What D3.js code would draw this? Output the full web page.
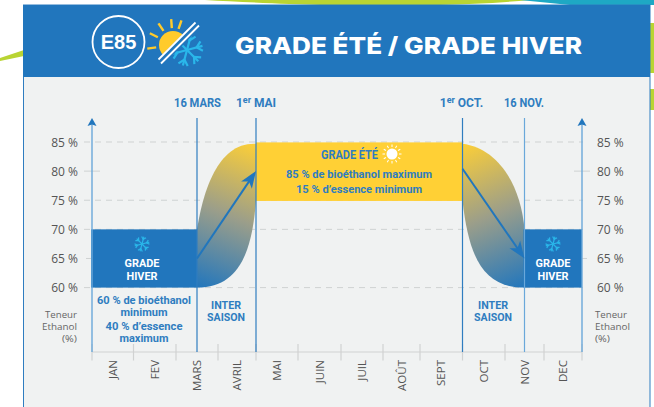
<!DOCTYPE html>
<html>
<head>
<meta charset="utf-8">
<title>E85 Grade été / Grade hiver</title>
<script src="https://cdn.jsdelivr.net/npm/d3@7"></script>
<style>
  html, body { margin: 0; padding: 0; background: #fff; overflow: hidden; }
  svg { display: block; }
  .tick-label { font-family: "Open Sans", sans-serif; font-size: 12px; fill: #555; }
  .unit { font-family: "Open Sans", sans-serif; font-size: 8.6px; fill: #666; }
  .month { font-family: "Open Sans", sans-serif; font-size: 11.5px; fill: #555; }
  .narrow { font-family: "Liberation Sans Narrow", Roboto, sans-serif; font-weight: 700; }
</style>
</head>
<body>
<svg width="654" height="407"></svg>
<script>
// values
var months = ["JAN", "FEV", "MARS", "AVRIL", "MAI", "JUIN", "JUIL", "AOÛT", "SEPT", "OCT", "NOV", "DEC"];
var monthEdges = d3.range(13);
var percentTicks = [60, 65, 70, 75, 80, 85];
var fullGridTicks = [60, 70, 75, 85];
var changeDates = [2.5, 4, 9, 10.5];
var changeColors = ["#2f7dc0", "#2f7dc0", "#2f7dc0", "#6aa8da"];
var unitLines = ["Teneur", "Ethanol", "(%)"];

var winterLow = 60, winterHigh = 70, summerLow = 75, summerHigh = 85;
var winterLeft = [0, 2.5], winterRight = [10.5, 12], summer = [4, 9];
var riseArrow = [[2.5, 65], [4, 80]];
var fallArrow = [[9, 80.4], [10.5, 65]];

var blue = "#2176bd", textBlue = "#2f7dc0", yellow = "#ffd035", cyan = "#2ab7ea";

var svg = d3.select("svg");

// month ticks in the picture are not evenly spaced, so the scale is piecewise
var x = d3.scaleLinear().domain(monthEdges)
    .range([92, 133.5, 176, 218, 256, 298, 341, 383, 420, 462.5, 505, 544, 582]);
var y = d3.scaleLinear().domain([60, 85]).range([287.6, 142]);

// decoration behind the panel
var deco = svg.append("g");
deco.append("path").attr("d", "M0,58L24,50L24,56L0,61Z").attr("fill", "#b9d433");
deco.append("path").attr("d", "M205,0H530C500,3 470,4 440,5H320C290,4 240,2 205,0Z").attr("fill", "#b9d433");
deco.append("path").attr("d", "M520,0H654V5H570Z").attr("fill", "#1ea8c4");
deco.append("rect").attr("x", 650).attr("y", 23).attr("width", 4).attr("height", 50).attr("fill", "#b9d433");
deco.append("rect").attr("x", 650).attr("y", 89).attr("width", 4).attr("height", 21).attr("fill", "#b9d433");

// panel and header
svg.append("rect").attr("x", 23.5).attr("y", 5).attr("width", 626.5).attr("height", 410)
    .attr("fill", "#f0f2f2").attr("stroke", "#2f7dc0").attr("stroke-width", 1);
svg.append("rect").attr("x", 23).attr("y", 5).attr("width", 627).attr("height", 72).attr("fill", blue);

svg.append("circle").attr("cx", 118.5).attr("cy", 42).attr("r", 26)
    .attr("fill", "none").attr("stroke", "#fff").attr("stroke-width", 1.8);
svg.append("text").attr("x", 118.5).attr("y", 49).attr("text-anchor", "middle")
    .attr("font-family", "Liberation Sans, sans-serif").attr("font-weight", 700)
    .attr("font-size", 20).attr("fill", "#fff").text("E85");

svg.append("text").attr("x", 235).attr("y", 54)
    .attr("font-family", "Inter, sans-serif").attr("font-weight", 800)
    .attr("font-size", 23).attr("fill", "#fff")
    .attr("textLength", 347).attr("lengthAdjust", "spacingAndGlyphs")
    .text("GRADE ÉTÉ / GRADE HIVER");

function drawSnowflake(parent, cx, cy, r, color, sw) {
  var g = parent.append("g").attr("transform", "translate(" + cx + "," + cy + ")")
      .attr("stroke", color).attr("stroke-width", sw).attr("fill", "none");
  d3.range(6).forEach(function(i) {
    var arm = g.append("g").attr("transform", "rotate(" + (i * 60 + 15) + ")");
    arm.append("path").attr("d", "M0,0V" + (-r));
    arm.append("path").attr("d", "M" + (-r * 0.3) + "," + (-r * 0.95) + "L0," + (-r * 0.62) + "L" + (r * 0.3) + "," + (-r * 0.95));
  });
}

function drawSun(parent, cx, cy, r, inner, outer, color, sw, angles) {
  var g = parent.append("g").attr("transform", "translate(" + cx + "," + cy + ")");
  g.append("circle").attr("r", r).attr("fill", color);
  angles.forEach(function(a) {
    g.append("path").attr("d", "M0," + (-inner) + "V" + (-outer))
        .attr("transform", "rotate(" + a + ")")
        .attr("stroke", color).attr("stroke-width", sw);
  });
}

// header icon: sun and snowflake split by a double diagonal
var defs = svg.append("defs");
defs.append("clipPath").attr("id", "sunSide").append("path").attr("d", "M140,77L205,12H140Z");
defs.append("clipPath").attr("id", "snowSide").append("path").attr("d", "M155,73L210,18V80H155Z");

var icon = svg.append("g");
drawSun(icon.append("g").attr("clip-path", "url(#sunSide)"), 173, 45, 14, 17, 26, "#ffcb2b", 2.4, [-98, -63, -34, -4, 19]);
drawSnowflake(icon.append("g").attr("clip-path", "url(#snowSide)"), 187, 50, 16, cyan, 2.2);
icon.append("path").attr("d", "M158.5,59.5L195.5,22.5").attr("stroke", "#fff").attr("stroke-width", 1.8);
icon.append("path").attr("d", "M161,63.5L199,25.5").attr("stroke", "#fff").attr("stroke-width", 1.8);

// horizontal guides
var grid = svg.append("g");
percentTicks.forEach(function(p) {
  var full = fullGridTicks.indexOf(p) >= 0;
  if (full) {
    grid.append("line").attr("x1", 84).attr("x2", 583).attr("y1", y(p)).attr("y2", y(p))
        .attr("stroke", "#cfd2d2").attr("stroke-dasharray", "6,5");
  } else {
    grid.append("line").attr("x1", p === 80 ? 84 : 86).attr("x2", p === 80 ? 100 : 92).attr("y1", y(p)).attr("y2", y(p))
        .attr("stroke", "#cfd2d2");
    grid.append("line").attr("x1", p === 80 ? 574 : 582).attr("x2", p === 80 ? 590 : 587).attr("y1", y(p)).attr("y2", y(p))
        .attr("stroke", "#cfd2d2");
  }
  svg.append("text").attr("class", "tick-label").attr("x", 78).attr("y", y(p) + 4.5)
      .attr("text-anchor", "end").text(p + " %");
  svg.append("text").attr("class", "tick-label").attr("x", 597).attr("y", y(p) + 4.5).text(p + " %");
});

// gradients for the two transition seasons
function addGradient(id, x1, y1, x2, y2) {
  var g = defs.append("linearGradient").attr("id", id).attr("gradientUnits", "userSpaceOnUse")
      .attr("x1", x1).attr("y1", y1).attr("x2", x2).attr("y2", y2);
  g.append("stop").attr("offset", 0).attr("stop-color", blue);
  g.append("stop").attr("offset", 0.5).attr("stop-color", "#9b9e8a");
  g.append("stop").attr("offset", 1).attr("stop-color", yellow);
}
addGradient("riseFill", x(2.5), y(60), x(4), y(85));
addGradient("fallFill", x(10.5), y(60), x(9), y(85));

var rise = d3.path();
rise.moveTo(x(2.5), y(winterHigh));
rise.bezierCurveTo(x(2.65), y(76.7), x(3), y(85), x(4), y(84.7));
rise.lineTo(x(4), y(summerLow));
rise.bezierCurveTo(x(3.9), y(66.4), x(3.58), y(60), x(2.5), y(winterLow));
rise.closePath();
svg.append("path").attr("d", rise.toString()).attr("fill", "url(#riseFill)");

var fall = d3.path();
fall.moveTo(x(9), y(84.7));
fall.bezierCurveTo(x(9.8), y(84), x(10.4), y(78), x(10.5), y(winterHigh));
fall.lineTo(x(10.5), y(winterLow));
fall.bezierCurveTo(x(9.5), y(60), x(9.15), y(65), x(9), y(summerLow));
fall.closePath();
svg.append("path").attr("d", fall.toString()).attr("fill", "url(#fallFill)");

// grade blocks
[winterLeft, winterRight].forEach(function(d) {
  svg.append("rect").attr("x", x(d[0]) - 1).attr("y", y(winterHigh))
      .attr("width", x(d[1]) - x(d[0]) + 1).attr("height", y(winterLow) - y(winterHigh))
      .attr("fill", blue);
});
svg.append("rect").attr("x", x(summer[0])).attr("y", y(summerHigh) + 0.4)
    .attr("width", x(summer[1]) - x(summer[0])).attr("height", y(summerLow) - y(summerHigh) + 0.3)
    .attr("fill", yellow);

// month axis
var axisY = 352;
svg.append("line").attr("x1", x(0)).attr("x2", x(12)).attr("y1", axisY).attr("y2", axisY)
    .attr("stroke", "#d0d2d2");
monthEdges.forEach(function(m) {
  svg.append("line").attr("x1", x(m)).attr("x2", x(m)).attr("y1", 344).attr("y2", 360.5)
      .attr("stroke", "#d0d2d2").attr("stroke-width", 1.2);
});
months.forEach(function(m, i) {
  var cx = (x(i) + x(i + 1)) / 2;
  svg.append("text").attr("class", "month").attr("text-anchor", "end")
      .attr("transform", "translate(" + (cx + 4) + ",360) rotate(-90)").text(m);
});

// vertical axes with arrow heads
[0, 12].forEach(function(m) {
  svg.append("line").attr("x1", x(m)).attr("x2", x(m)).attr("y1", 122).attr("y2", axisY)
      .attr("stroke", "#6aa8da").attr("stroke-width", 1.4);
  svg.append("path").attr("transform", "translate(" + x(m) + ",118)")
      .attr("d", "M0,0L4.5,8L0,6.5L-4.5,8Z").attr("fill", blue);
});

// season change lines
changeDates.forEach(function(m, i) {
  svg.append("line").attr("x1", x(m)).attr("x2", x(m)).attr("y1", 118).attr("y2", axisY)
      .attr("stroke", changeColors[i]).attr("stroke-width", 1.2);
});

// transition arrows
function drawArrow(a) {
  var x1 = x(a[0][0]), y1 = y(a[0][1]), x2 = x(a[1][0]), y2 = y(a[1][1]);
  var deg = Math.atan2(y2 - y1, x2 - x1) * 180 / Math.PI + 90;
  svg.append("line").attr("x1", x1).attr("y1", y1)
      .attr("x2", x1 + (x2 - x1) * 0.9).attr("y2", y1 + (y2 - y1) * 0.9)
      .attr("stroke", blue).attr("stroke-width", 2);
  svg.append("path").attr("transform", "translate(" + x2 + "," + y2 + ") rotate(" + deg + ")")
      .attr("d", "M0,0L6.5,17L0,12.5L-6.5,17Z").attr("fill", blue);
}
drawArrow(riseArrow);
drawArrow(fallArrow);

// condensed labels are fitted to the width measured on the picture
function label(cx, yb, str, width, size, color) {
  return svg.append("text").attr("class", "narrow").attr("x", cx).attr("y", yb)
      .attr("text-anchor", "middle").attr("font-size", size).attr("fill", color)
      .attr("textLength", width).attr("lengthAdjust", "spacingAndGlyphs").text(str);
}

label(197.5, 107, "16 MARS", 47, 12, textBlue);
label(524, 107, "16 NOV.", 40, 12, textBlue);

function ordinalLabel(cx, head, sup, tail) {
  var t = svg.append("text").attr("class", "narrow").attr("x", cx).attr("y", 107)
      .attr("text-anchor", "middle").attr("font-size", 12).attr("fill", textBlue);
  t.append("tspan").text(head);
  t.append("tspan").attr("dy", -4).attr("font-size", 9).text(sup);
  t.append("tspan").attr("dy", 4).text(" " + tail);
}
ordinalLabel(256, "1", "er", "MAI");
ordinalLabel(461.5, "1", "er", "OCT.");

label(144, 304, "60 % de bioéthanol", 94, 10.4, textBlue);
label(144, 316, "minimum", 47, 10.4, textBlue);
label(144, 330, "40 % d’essence", 77, 10.4, textBlue);
label(144, 342, "maximum", 49, 10.4, textBlue);

[226, 493].forEach(function(cx) {
  label(cx, 309, "INTER", 30, 10.4, textBlue);
  label(cx, 321, "SAISON", 38, 10.4, textBlue);
});

[[142, 267, 280], [553, 267, 280]].forEach(function(d) {
  drawSnowflake(svg, d[0], 244, 7.5, cyan, 1.2);
  label(d[0], d[1], "GRADE", 35, 11, "#fff");
  label(d[0], d[2], "HIVER", 31, 11, "#fff");
});

label(349.5, 159, "GRADE ÉTÉ", 57, 12, textBlue);
drawSun(svg, 392, 154, 5.5, 7, 9.5, "#fff", 1, d3.range(0, 360, 30));
label(359, 178, "85 % de bioéthanol maximum", 146, 11.5, textBlue);
label(359, 193, "15 % d’essence minimum", 126, 11.5, textBlue);

// unit captions on both sides, stretched to the measured widths
var unitWidths = [32, 35, 15];
unitLines.forEach(function(s, i) {
  var yb = [317.5, 329.5, 341.5][i];
  svg.append("text").attr("class", "unit").attr("x", 77).attr("y", yb).attr("text-anchor", "end")
      .attr("textLength", unitWidths[i]).attr("lengthAdjust", "spacingAndGlyphs").text(s);
  svg.append("text").attr("class", "unit").attr("x", 595).attr("y", yb)
      .attr("textLength", unitWidths[i]).attr("lengthAdjust", "spacingAndGlyphs").text(s);
});
</script>
</body>
</html>
